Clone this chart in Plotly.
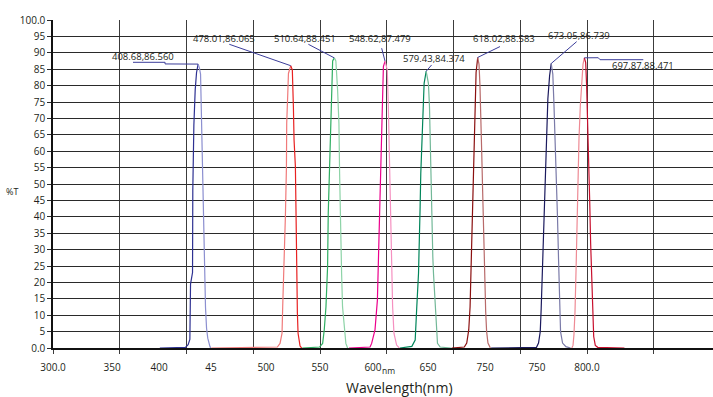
import plotly.graph_objects as go

# ---- transmission curves of the eight band-pass filters (nm, %T) ----
wl_408 = [380.0, 399.18, 401.18, 402.48, 402.98, 404.48, 404.68, 405.48, 406.48, 407.48, 408.68,
          409.58, 410.48, 411.08, 411.88, 412.88, 413.28, 414.18, 414.98, 415.88, 417.48, 418.0]
t_408 = [0.0, 0.2, 1.0, 2.6, 19.5, 23.0, 48.0, 68.0, 78.7, 84.0, 86.56,
         85.5, 83.5, 72.5, 57.5, 40.0, 24.0, 12.5, 6.0, 3.0, 0.5, 0.0]

wl_478 = [418.5, 468.0, 470.0, 471.5, 472.0, 473.0, 474.0, 474.8, 475.0, 475.8, 476.3, 478.01,
          479.2, 480.0, 480.5, 481.5, 482.0, 482.5, 483.0, 483.5, 485.0, 486.2]
t_478 = [0.0, 0.3, 1.4, 4.5, 12.6, 24.8, 40.0, 55.3, 68.5, 77.6, 83.7, 86.065,
         84.8, 73.6, 63.4, 55.3, 36.7, 22.8, 10.6, 4.5, 0.6, 0.0]

wl_510 = [486.6, 499.6, 501.9, 503.1, 504.4, 505.6, 506.1, 506.9, 507.6, 508.6, 509.4, 510.64,
          511.8, 513.1, 514.1, 514.6, 515.1, 516.1, 516.8, 518.1, 519.3, 520.6]
t_510 = [0.0, 0.3, 1.4, 5.5, 12.6, 24.8, 41.0, 53.3, 67.5, 78.7, 87.5, 88.451,
         87.5, 78.7, 68.5, 53.3, 38.0, 22.8, 12.6, 5.5, 1.4, 0.0]

wl_548 = [521.6, 537.4, 538.6, 541.1, 542.9, 543.6, 544.4, 544.9, 545.4, 546.1, 546.9, 547.4, 548.62,
          550.3, 551.1, 551.6, 552.3, 552.8, 553.6, 554.3, 555.3, 557.3, 559.3]
t_548 = [0.0, 0.3, 1.4, 5.5, 14.6, 24.8, 35.0, 45.1, 55.3, 66.5, 78.7, 85.8, 87.479,
         84.8, 73.6, 63.4, 48.2, 32.9, 22.8, 12.6, 4.5, 0.9, 0.0]

wl_579 = [559.8, 568.7, 571.2, 571.9, 572.4, 573.7, 574.4, 574.9, 575.4, 576.2, 576.9, 577.9, 579.43,
          581.1, 581.9, 582.4, 582.9, 583.6, 584.4, 584.9, 586.1, 586.9, 587.9, 589.9, 597.9]
t_579 = [0.0, 0.5, 2.4, 6.5, 12.6, 22.8, 30.9, 43.1, 53.3, 63.4, 72.6, 80.7, 84.374,
         80.7, 73.6, 62.4, 51.2, 41.1, 27.8, 22.8, 12.6, 5.5, 1.4, 0.3, 0.0]

wl_618 = [598.5, 608.0, 609.8, 611.3, 612.3, 613.0, 613.8, 614.3, 615.0, 615.8, 616.8, 618.02,
          619.0, 619.7, 620.5, 621.0, 621.7, 622.5, 623.2, 624.0, 624.7, 625.7, 627.5]
t_618 = [0.0, 0.3, 1.5, 5.5, 12.5, 24.0, 38.0, 52.0, 63.0, 74.0, 84.0, 88.583,
         86.5, 80.0, 70.0, 60.0, 48.0, 34.0, 21.0, 11.0, 5.0, 1.5, 0.0]

wl_673 = [628.05, 662.05, 663.55, 664.85, 665.55, 666.55, 667.55, 668.55, 669.55, 670.55, 671.85, 673.05,
          674.25, 675.05, 676.05, 677.05, 677.75, 678.55, 679.25, 680.05, 681.55, 684.05, 687.55]
t_673 = [0.0, 0.2, 1.5, 5.0, 12.0, 25.0, 40.0, 54.0, 66.0, 76.0, 83.0, 86.739,
         83.5, 75.0, 64.0, 52.0, 40.0, 27.0, 14.0, 5.0, 1.5, 0.4, 0.0]

wl_697 = [688.47, 689.37, 690.07, 690.87, 691.67, 692.37, 693.17, 693.87, 694.87, 695.87, 696.87, 697.87,
          698.87, 699.57, 700.37, 701.07, 701.87, 702.57, 703.37, 704.07, 704.87, 706.07, 707.87, 727.87]
t_697 = [0.0, 0.8, 4.0, 11.0, 24.0, 38.0, 52.0, 64.0, 74.0, 82.0, 86.5, 88.471,
         87.0, 80.0, 70.0, 58.0, 45.0, 32.0, 19.0, 9.0, 3.5, 0.8, 0.2, 0.0]

curves = [(wl_408, t_408), (wl_478, t_478), (wl_510, t_510), (wl_548, t_548),
          (wl_579, t_579), (wl_618, t_618), (wl_673, t_673), (wl_697, t_697)]

# rising-edge / falling-edge stroke colours of each filter
edge_colors = [("#2e3192", "#8c8fd0"), ("#f07a7a", "#e82222"), ("#2fae62", "#8dd3a7"),
               ("#ec008c", "#f590c0"), ("#00855a", "#72b898"), ("#8b1010", "#b86a6a"),
               ("#1b1a5e", "#7a7aa8"), ("#ee8a94", "#c8102e")]

# where each peak callout text sits, and the bend points of its leader
label_pos = [(367.4, 89.0), (428.0, 94.5), (488.7, 94.5), (544.8, 94.5),
             (585.3, 88.3), (637.7, 94.4), (693.5, 95.4), (741.5, 86.1)]
leader_pts = [[(359.9, 87.1), (383.9, 87.1), (383.9, 86.6)],
              [(432.0, 92.6)],
              [(491.2, 92.6)],
              [(546.1, 91.4)],
              [(583.5, 86.3)],
              [(634.7, 91.9)],
              [(692.1, 93.4)],
              [(742.0, 87.9), (709.6, 87.9), (708.3, 88.5)]]

# bottom axis: tick label texts and where they are printed
x_tick_text = ["300.0", "350", "400", "45", "500", "550", "600", "650", "750", "750", "800.0"]
x_tick_pos = [300.0, 344.2, 379.4, 418.3, 459.5, 499.9, 539.6, 580.8, 623.5, 662.4, 699.8]

y_tick_vals = list(range(0, 101, 5))
y_tick_text = ["0.0"] + [str(v) for v in y_tick_vals[1:-1]] + ["100.0"]

TXT = "#231f20"
FONT = "Open Sans"

fig = go.Figure()

for (wl, tr), (c_up, c_down) in zip(curves, edge_colors):
    k = tr.index(max(tr))
    fig.add_trace(go.Scatter(x=wl[:k + 1], y=tr[:k + 1], mode="lines",
                             line=dict(color=c_up, width=1.2), hoverinfo="skip"))
    fig.add_trace(go.Scatter(x=wl[k:], y=tr[k:], mode="lines",
                             line=dict(color=c_down, width=1.2), hoverinfo="skip"))

# peak callouts with their leader lines
for (wl, tr), (lx, ly), pts in zip(curves, label_pos, leader_pts):
    k = tr.index(max(tr))
    px, py = wl[k], tr[k]
    xs = [p[0] for p in pts] + [px]
    ys = [p[1] for p in pts] + [py]
    fig.add_trace(go.Scatter(x=xs, y=ys, mode="lines",
                             line=dict(color="#3b3d9a", width=1), hoverinfo="skip"))
    fig.add_annotation(x=lx, y=ly, xref="x", yref="y", text=f"{px:.2f},{py:.3f}",
                       showarrow=False, font=dict(family=FONT, size=9.5, color=TXT))

# axis captions (placed in paper units below / left of the plot area)
fig.add_annotation(x=(388 - 53) / 660, y=(348 - 370) / 328, xref="paper", yref="paper",
                   xanchor="center", yanchor="middle", borderpad=0,
                   text="nm", showarrow=False, font=dict(family=FONT, size=8.5, color=TXT))
fig.add_annotation(x=(399 - 53) / 660, y=(348 - 387) / 328, xref="paper", yref="paper",
                   xanchor="center", yanchor="middle", borderpad=0,
                   text="Wavelength(nm)", showarrow=False,
                   font=dict(family=FONT, size=14, color=TXT))
fig.add_annotation(x=(12 - 53) / 660, y=(348 - 191) / 328, xref="paper", yref="paper",
                   xanchor="center", yanchor="middle",
                   text="%T", showarrow=False, font=dict(family=FONT, size=9, color=TXT))

fig.update_layout(
    width=713, height=397,
    margin=dict(l=53, r=0, t=20, b=49),
    paper_bgcolor="white", plot_bgcolor="white",
    showlegend=False,
    font=dict(family=FONT, size=10, color=TXT),
    xaxis=dict(
        range=[300, 794.2], showgrid=False, zeroline=False,
        tickmode="array", tickvals=x_tick_pos, ticktext=x_tick_text,
        ticks="outside", ticklen=9, tickcolor="rgba(0,0,0,0)",
        tickfont=dict(family=FONT, size=10, color=TXT),
        showline=True, linecolor="#111", linewidth=1.5,
        minor=dict(tick0=300, dtick=50, showgrid=True, gridcolor="#3c3c3c", gridwidth=1.4,
                   ticks="outside", ticklen=4, tickcolor="#3c3c3c", tickwidth=1.4),
    ),
    yaxis=dict(
        range=[0, 100], zeroline=False,
        tickmode="array", tickvals=y_tick_vals, ticktext=y_tick_text,
        showgrid=True, gridcolor="#2a2a2a", gridwidth=1.2,
        ticks="outside", ticklen=4, tickcolor="#2a2a2a",
        tickfont=dict(family=FONT, size=10, color=TXT),
        showline=True, linecolor="#111", linewidth=1.5,
    ),
)

fig.write_html("out.html")
